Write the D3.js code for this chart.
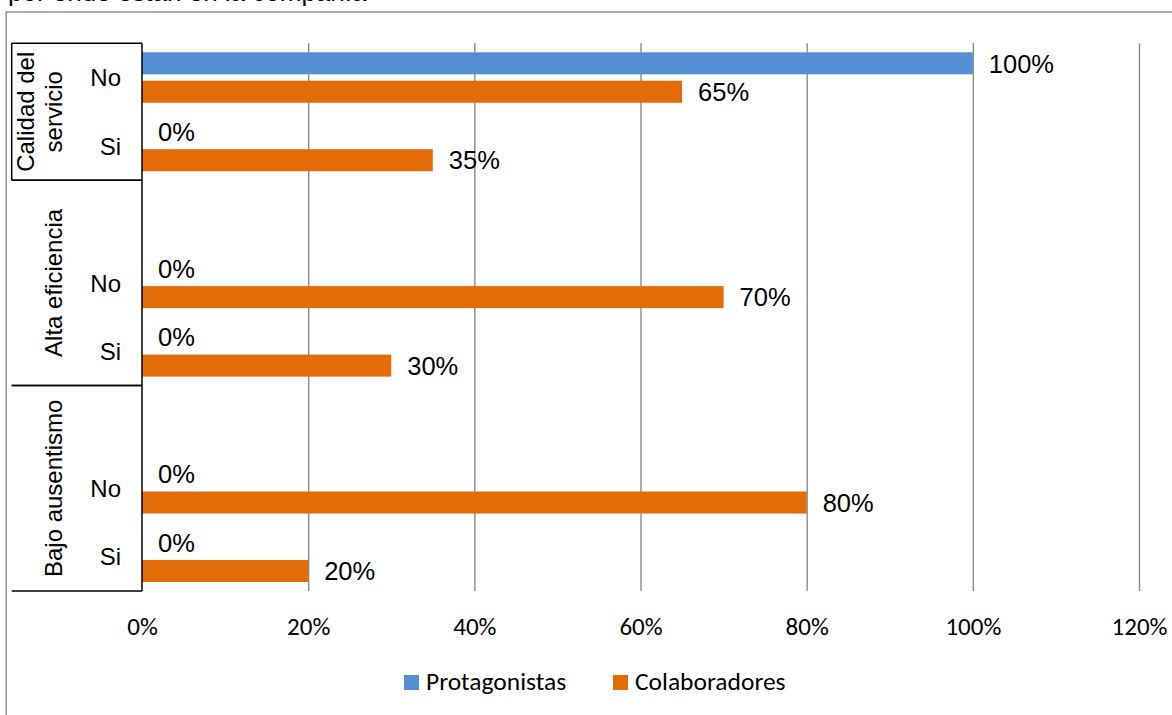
<!DOCTYPE html>
<html>
<head>
<meta charset="utf-8">
<script src="https://cdn.jsdelivr.net/npm/d3@7"></script>
<style>
  html, body { margin: 0; padding: 0; background: #ffffff; }
  svg { display: block; }
</style>
</head>
<body>
<svg id="chart" width="1172" height="715"></svg>
<script>
// Rows from top to bottom; empty labels are spacer rows inside a group.
const rowGroups = ["Calidad del servicio", "Calidad del servicio",
                   "Alta eficiencia", "Alta eficiencia", "Alta eficiencia",
                   "Bajo ausentismo", "Bajo ausentismo", "Bajo ausentismo"];
const rowLabels = ["No", "Si", "", "No", "Si", "", "No", "Si"];
const groupNames = ["Calidad del servicio", "Alta eficiencia", "Bajo ausentismo"];
const groupLines = [["Calidad del", "servicio"], ["Alta eficiencia"], ["Bajo ausentismo"]];
const seriesNames = ["Protagonistas", "Colaboradores"];
const protagonistas = [1.00, 0.00, null, 0.00, 0.00, null, 0.00, 0.00];
const colaboradores = [0.65, 0.35, null, 0.70, 0.30, null, 0.80, 0.20];
const xTicks = [0, 0.2, 0.4, 0.6, 0.8, 1.0, 1.2];
const seriesColors = ["#558ED5", "#E36C09"];
const headingText = "por ende están en la compañía";

const svg = d3.select("#chart");
const plot = { left: 142, right: 1139, top: 43.3, bottom: 591 };
const boxLeft = 11.7;
const arial = "'Liberation Sans', Arial, sans-serif";
const calibri = "Carlito, Calibri, Lato, sans-serif";

// Paragraph line above the chart object (mostly scrolled off)
svg.append("text")
  .attr("x", 8).attr("y", 0.7)
  .attr("font-family", arial).attr("font-size", 26)
  .attr("fill", "#000")
  .text(headingText);

// Chart area frame
svg.append("rect")
  .attr("x", 6.2).attr("y", 12)
  .attr("width", 1300).attr("height", 900)
  .attr("fill", "none").attr("stroke", "#8a8a8a").attr("stroke-width", 1.4);

const rowKeys = rowLabels.map((d, i) => i);
const x = d3.scaleLinear().domain([0, 1.2]).range([plot.left, plot.right]);
const y = d3.scaleBand().domain(rowKeys).range([plot.top, plot.bottom]).paddingInner(0).paddingOuter(0);
const ySub = d3.scaleBand().domain(seriesNames).range([0, y.bandwidth()])
  .paddingInner(0.225).paddingOuter(0.317);

// Vertical gridlines
const grid = svg.append("g")
  .attr("transform", `translate(0,${plot.bottom})`)
  .call(d3.axisBottom(x).tickValues(xTicks.slice(1)).tickSize(-(plot.bottom - plot.top)).tickFormat(""));
grid.select(".domain").remove();
grid.selectAll(".tick line").attr("stroke", "#8a8a8a").attr("stroke-width", 1.4);

// Tick labels
const xAxis = svg.append("g")
  .attr("transform", `translate(0,${plot.bottom})`)
  .call(d3.axisBottom(x).tickValues(xTicks).tickSize(0).tickFormat(d3.format(".0%")));
xAxis.select(".domain").remove();
xAxis.selectAll(".tick text")
  .attr("y", 44).attr("dy", 0)
  .attr("font-family", calibri).attr("font-size", 25).attr("fill", "#000");

// Bars
const seriesData = [protagonistas, colaboradores];
seriesNames.forEach((s, si) => {
  const vals = seriesData[si];
  const g = svg.append("g");
  const rows = rowKeys.filter(i => vals[i] !== null);
  g.selectAll("rect").data(rows).join("rect")
    .attr("x", x(0))
    .attr("y", i => y(i) + ySub(s))
    .attr("width", i => x(vals[i]) - x(0))
    .attr("height", ySub.bandwidth())
    .attr("fill", seriesColors[si]);
  g.selectAll("text").data(rows).join("text")
    .attr("x", i => x(vals[i]) + 16)
    .attr("y", i => y(i) + ySub(s) + ySub.bandwidth() / 2)
    .attr("dy", "0.36em")
    .attr("font-family", arial).attr("font-size", 25.5).attr("fill", "#000")
    .text(i => d3.format(".0%")(vals[i]));
});

// Category axis line
svg.append("line")
  .attr("x1", plot.left).attr("x2", plot.left)
  .attr("y1", plot.top).attr("y2", plot.bottom)
  .attr("stroke", "#000").attr("stroke-width", 1.5);

// Multi-level category boxes
groupNames.forEach((gname, gi) => {
  const rows = rowKeys.filter(i => rowGroups[i] === gname);
  const y0 = y(rows[0]);
  const y1 = y(rows[rows.length - 1]) + y.bandwidth();
  const g = svg.append("g");
  [y0, y1].forEach(yy => {
    g.append("line")
      .attr("x1", boxLeft).attr("x2", plot.left)
      .attr("y1", yy).attr("y2", yy)
      .attr("stroke", "#000").attr("stroke-width", 1.5);
  });
  if (gi === 0) {
    g.append("line")
      .attr("x1", boxLeft).attr("x2", boxLeft)
      .attr("y1", y0).attr("y2", y1)
      .attr("stroke", "#000").attr("stroke-width", 1.5);
  }
  const lines = groupLines[gi];
  const cy = (y0 + y1) / 2;
  lines.forEach((ln, li) => {
    const bx = 62 - (lines.length - 1 - li) * 28;
    g.append("text")
      .attr("transform", `translate(${bx},${cy}) rotate(-90)`)
      .attr("text-anchor", "middle")
      .attr("font-family", arial).attr("font-size", 24).attr("fill", "#000")
      .text(ln);
  });
});

// Sub-category labels
svg.append("g").selectAll("text")
  .data(rowKeys.filter(i => rowLabels[i] !== ""))
  .join("text")
  .attr("x", 121)
  .attr("y", i => y(i) + y.bandwidth() / 2)
  .attr("dy", "0.36em")
  .attr("text-anchor", "end")
  .attr("font-family", arial).attr("font-size", 24).attr("fill", "#000")
  .text(i => rowLabels[i]);

// Legend
const legendX = [404, 613];
const legend = svg.append("g");
seriesNames.forEach((s, si) => {
  legend.append("rect")
    .attr("x", legendX[si]).attr("y", 675)
    .attr("width", 15).attr("height", 15)
    .attr("fill", seriesColors[si]);
  legend.append("text")
    .attr("x", legendX[si] + 22).attr("y", 690)
    .attr("font-family", calibri).attr("font-size", 25.5).attr("fill", "#000")
    .text(s);
});
</script>
</body>
</html>
